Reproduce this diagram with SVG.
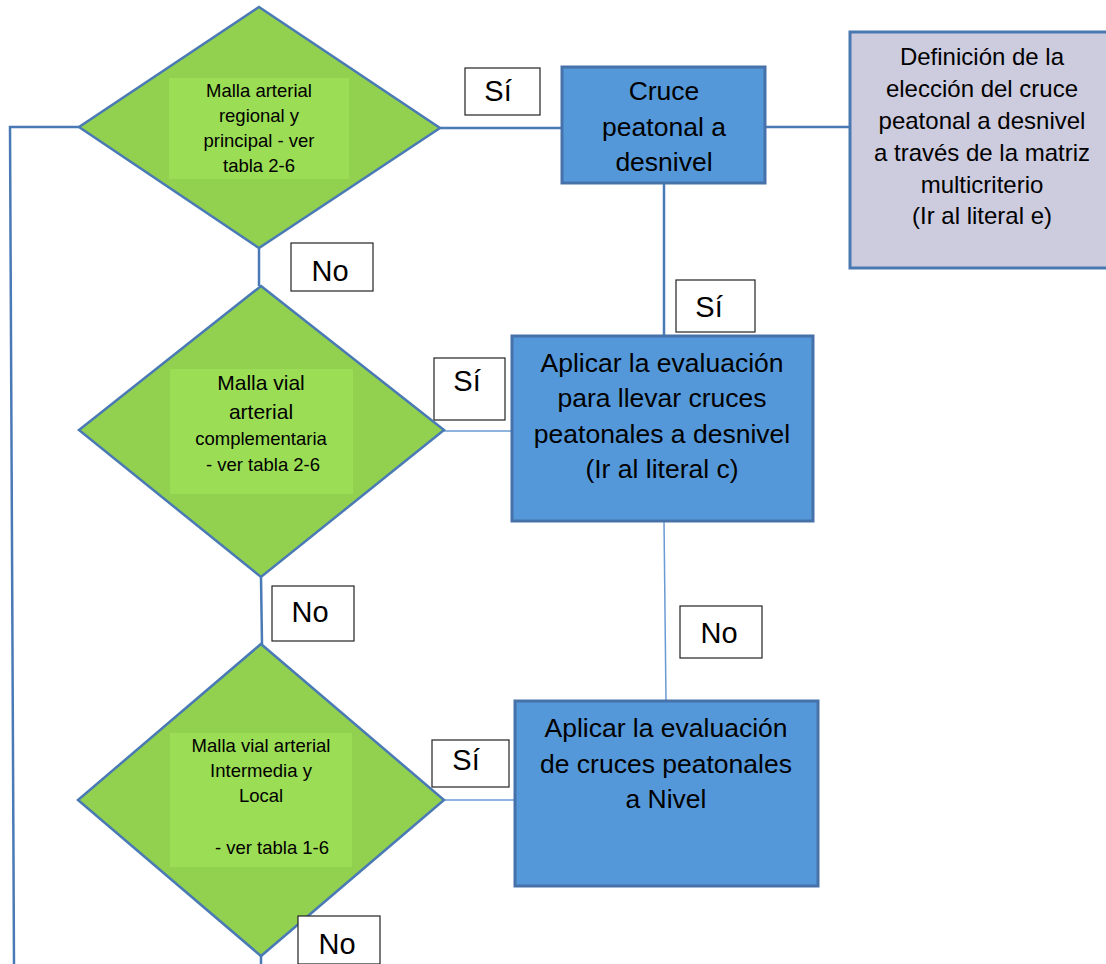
<svg xmlns="http://www.w3.org/2000/svg" width="1106" height="964" viewBox="0 0 1106 964">
<style>
.dia{fill:#92d050;stroke:#4a7ab5;stroke-width:2.5}
.inner{fill:#9bdd55}
.box{fill:#5498da;stroke:#4672a9;stroke-width:3}
.def{fill:#cdcbde;stroke:#4a78b0;stroke-width:3}
.lbl{fill:#fff;stroke:#222;stroke-width:1.2}
.ln{stroke:#4a7ab5;stroke-width:2.5;fill:none}
.thin{stroke:#6a9ad4;stroke-width:1.5;fill:none}
text{font-family:"Liberation Sans",Arial,sans-serif;fill:#000;text-anchor:middle}
.s{font-size:18.5px}
.sv{font-size:21px}
.m{font-size:24px}
.b{font-size:26.5px}
.l{font-size:29px}
</style>
<rect width="1106" height="964" fill="#fff"/>
<g id="connectors">
<polyline class="ln" points="79,127 10,127 14,964"/>
<line class="ln" x1="440" y1="128" x2="562" y2="128"/>
<line class="ln" x1="765" y1="127" x2="850" y2="127"/>
<line class="ln" x1="664" y1="183" x2="664" y2="336"/>
<line class="ln" x1="259" y1="248" x2="259" y2="286"/>
<line class="thin" x1="444" y1="431" x2="512" y2="431"/>
<line class="thin" x1="664" y1="521" x2="666" y2="701"/>
<line class="ln" x1="261" y1="577" x2="262" y2="644"/>
<line class="thin" x1="444" y1="800" x2="515" y2="800"/>
<line class="ln" x1="261" y1="956" x2="261" y2="964"/>
</g>
<g id="d1">
<polygon class="dia" points="259,7 440,128 259,248 79,127"/>
<rect class="inner" x="169" y="78" width="180" height="101"/>
<text class="s" x="259" y="97">Malla arterial</text>
<text class="s" x="259" y="122">regional y</text>
<text class="s" x="259" y="147">principal - ver</text>
<text class="s" x="259" y="172">tabla 2-6</text>
</g>
<g id="d2">
<polygon class="dia" points="261,286 444,430 261,577 79,430"/>
<rect class="inner" x="170" y="369" width="183" height="125"/>
<text class="sv" x="261" y="390">Malla vial</text>
<text class="sv" x="261" y="419">arterial</text>
<text class="s" x="261" y="445">complementaria</text>
<text class="s" x="263" y="471">- ver tabla 2-6</text>
</g>
<g id="d3">
<polygon class="dia" points="261,644 444,800 261,956 78,800"/>
<rect class="inner" x="170" y="733" width="182" height="134"/>
<text class="s" x="261" y="752">Malla vial arterial</text>
<text class="s" x="261" y="777">Intermedia y</text>
<text class="s" x="261" y="802">Local</text>
<text class="s" x="272" y="854">- ver tabla 1-6</text>
</g>
<g id="n-cruce">
<rect class="box" x="562" y="67" width="203" height="116"/>
<text class="b" x="664" y="100">Cruce</text>
<text class="b" x="664" y="136">peatonal a</text>
<text class="b" x="664" y="171">desnivel</text>
</g>
<g id="n-def">
<rect class="def" x="850" y="32" width="258" height="236"/>
<text class="m" x="982" y="65">Definición de la</text>
<text class="m" x="982" y="97">elección del cruce</text>
<text class="m" x="982" y="129">peatonal a desnivel</text>
<text class="m" x="982" y="161">a través de la matriz</text>
<text class="m" x="982" y="193">multicriterio</text>
<text class="m" x="982" y="224">(Ir al literal e)</text>
</g>
<g id="n-aplicar1">
<rect class="box" x="512" y="336" width="301" height="185"/>
<text class="b" x="662" y="372">Aplicar la evaluación</text>
<text class="b" x="662" y="407">para llevar cruces</text>
<text class="b" x="662" y="443">peatonales a desnivel</text>
<text class="b" x="662" y="478">(Ir al literal c)</text>
</g>
<g id="n-aplicar2">
<rect class="box" x="515" y="701" width="303" height="185"/>
<text class="b" x="666" y="737">Aplicar la evaluación</text>
<text class="b" x="666" y="773">de cruces peatonales</text>
<text class="b" x="666" y="808">a Nivel</text>
</g>
<g id="labels">
<rect class="lbl" x="465" y="68" width="75" height="47"/>
<text class="l" x="498" y="101">Sí</text>
<rect class="lbl" x="291" y="243" width="82" height="48"/>
<text class="l" x="330" y="281">No</text>
<rect class="lbl" x="676" y="280" width="79" height="52"/>
<text class="l" x="709" y="317">Sí</text>
<rect class="lbl" x="434" y="358" width="71" height="62"/>
<text class="l" x="467" y="391">Sí</text>
<rect class="lbl" x="272" y="586" width="82" height="55"/>
<text class="l" x="310" y="622">No</text>
<rect class="lbl" x="680" y="606" width="82" height="52"/>
<text class="l" x="719" y="643">No</text>
<rect class="lbl" x="432" y="740" width="77" height="47"/>
<text class="l" x="466" y="770">Sí</text>
<rect class="lbl" x="298" y="916" width="82" height="48"/>
<text class="l" x="337" y="954">No</text>
</g>
</svg>
